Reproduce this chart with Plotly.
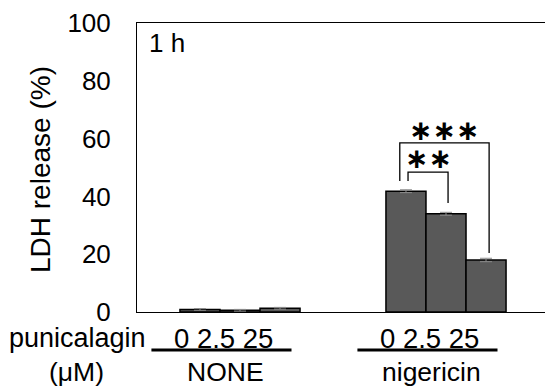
import plotly.graph_objects as go

groups = ["NONE", "nigericin"]
doses = ["0", "2.5", "25"]
ldh_0 = [0.9, 41.8]
ldh_2_5 = [0.6, 34.0]
ldh_25 = [1.3, 18.0]
err_0 = [0.3, 0.5]
err_2_5 = [0.3, 0.5]
err_25 = [0.3, 0.6]
series = [ldh_0, ldh_2_5, ldh_25]
errors = [err_0, err_2_5, err_25]
y_ticks = [0, 20, 40, 60, 80, 100]

FONT = "Liberation Sans, Arial, sans-serif"
OFF = 8  # default page body margin
FW, FH = 553 - OFF, 391 - OFF
L, R, T, B = 137 - OFF, 549 - OFF, 23 - OFF, 312 - OFF
W, H = R - L, B - T


def px(x):
    return (x - OFF - L) / W


def py(y):
    return (B - (y - OFF)) / H


gx = list(range(len(groups)))
fig = go.Figure()
for d, vals, errs in zip(doses, series, errors):
    fig.add_trace(go.Bar(
        x=gx, y=vals, name=d,
        marker=dict(color="#595959", line=dict(color="black", width=1.5)),
        error_y=dict(type="data", array=errs, color="#8c8c8c", thickness=1, width=6),
    ))

fig.update_layout(
    width=FW, height=FH,
    margin=dict(l=L, r=FW - R, t=T, b=FH - B, autoexpand=False),
    plot_bgcolor="white", paper_bgcolor="white",
    barmode="group", bargap=0.417, bargroupgap=0,
    showlegend=False,
    font=dict(family=FONT, size=26, color="black"),
)
fig.update_xaxes(type="linear", showline=True, linecolor="black", linewidth=1, mirror=True,
                 showticklabels=False, ticks="", showgrid=False, zeroline=False,
                 range=[-0.5, 1.5], automargin=False)
fig.update_yaxes(range=[0, 100], tickvals=y_ticks, showline=True, linecolor="black",
                 linewidth=1, mirror=True, showgrid=False, zeroline=False, ticks="",
                 ticklabelstandoff=20, tickfont=dict(size=26), automargin=False)

fig.add_annotation(x=px(40), y=py(170), xref="paper", yref="paper", text="LDH release (%)",
                   textangle=-90, showarrow=False, font=dict(size=28),
                   xanchor="center", yanchor="middle")

# significance brackets
bw = (1 - 0.417) / 3
b1, b2, b3 = 1 - bw, 1.0, 1 + bw
brackets = [
    (b1 + 0.01, b2 + 0.01, 45.3, 37.7, 48.4, "∗∗", 158),
    (b1 - 0.03, b3 + 0.015, 45.3, 20.4, 58.5, "∗∗∗", 130),
]
for xl, xr, yl, yr, ytop, txt, ty in brackets:
    fig.add_trace(go.Scatter(x=[xl, xl, xr, xr], y=[yl, ytop, ytop, yr], mode="lines",
                             line=dict(color="black", width=1.3), hoverinfo="skip",
                             showlegend=False))
    fig.add_annotation(x=(xl + xr) / 2, y=py(ty), text=txt, showarrow=False,
                       font=dict(size=28, family="DejaVu Sans", weight="bold"),
                       xref="x", yref="paper", xanchor="center", yanchor="middle",
                       borderpad=0)

fig.add_annotation(x=px(147), y=py(43), xref="paper", yref="paper", text="1 h",
                   showarrow=False, xanchor="left", yanchor="middle")

# category labels below
for i, g in enumerate(groups):
    fig.add_annotation(x=i, xshift=-17, y=py(338), xref="x", yref="paper",
                       text=" ".join(doses), showarrow=False, font=dict(size=27.5),
                       xanchor="center", yanchor="middle")
    fig.add_shape(type="line", xref="x", yref="paper", x0=i - 0.43, x1=i + 0.25,
                  y0=py(350), y1=py(350), line=dict(color="black", width=3))
    fig.add_annotation(x=i, xshift=-15, y=py(372), xref="x", yref="paper",
                       text=g, showarrow=False, font=dict(size=26.5),
                       xanchor="center", yanchor="middle")

fig.add_annotation(x=px(77), y=py(338), xref="paper", yref="paper", text="punicalagin",
                   showarrow=False, font=dict(size=27), xanchor="center", yanchor="middle",
                   borderpad=0)
fig.add_annotation(x=px(76), y=py(372), xref="paper", yref="paper",
                   text="(μM)", showarrow=False, font=dict(size=26.5),
                   xanchor="center", yanchor="middle")

fig.write_html("out.html")
